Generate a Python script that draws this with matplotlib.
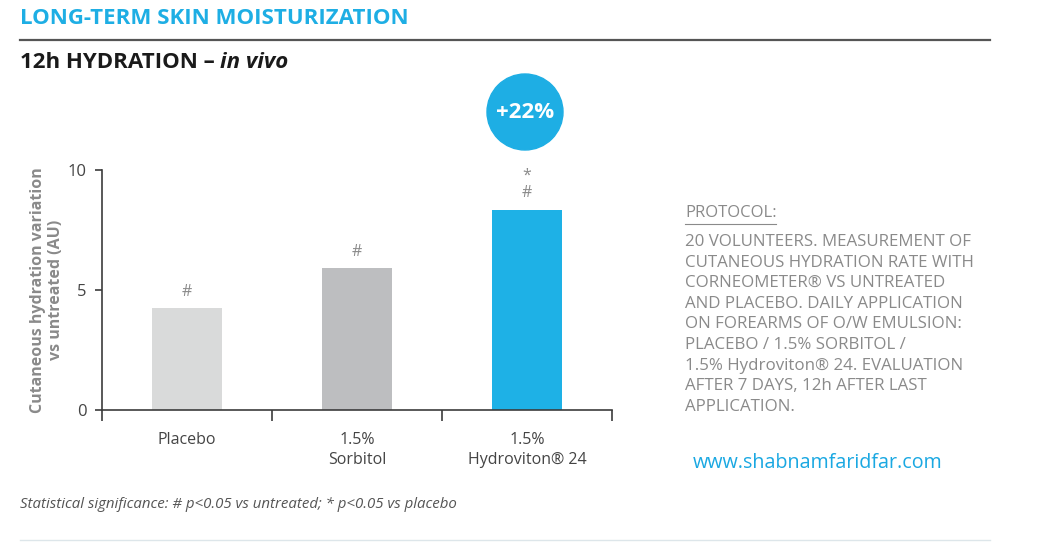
import matplotlib.pyplot as plt
from matplotlib.lines import Line2D
from matplotlib.patches import Circle

# data
categories = ["Placebo", "1.5%\nSorbitol", "1.5%\nHydroviton® 24"]
values = [4.25, 5.9, 8.35]
bar_colors = ["#d9dada", "#bdbec0", "#1eb1e6"]
marks = ["#", "#", "*\n#"]
gain_label = "+22%"

protocol_lines = [
    "20 VOLUNTEERS. MEASUREMENT OF",
    "CUTANEOUS HYDRATION RATE WITH",
    "CORNEOMETER® VS UNTREATED",
    "AND PLACEBO. DAILY APPLICATION",
    "ON FOREARMS OF O/W EMULSION:",
    "PLACEBO / 1.5% SORBITOL /",
    "1.5% Hydroviton® 24. EVALUATION",
    "AFTER 7 DAYS, 12h AFTER LAST",
    "APPLICATION.",
]

W, H = 1057, 542
blue = "#1eaee4"
grey_txt = "#8a8a8a"
axis_col = "#3c3c3c"

plt.rcParams['font.family'] = ['Open Sans', 'DejaVu Sans']

fig = plt.figure(figsize=(W / 100, H / 100), dpi=100)


def px(x, y):
    return x / W, 1 - y / H


# header
fig.text(*px(20, 18), "LONG-TERM SKIN MOISTURIZATION", color=blue, fontsize=16,
         fontweight='bold', va='center', ha='left')
fig.add_artist(Line2D([20 / W, 990 / W], [1 - 40 / H] * 2, color="#555555", lw=1.6))
t = fig.text(*px(20, 63), "12h HYDRATION – ", color="#1a1a1a", fontsize=16,
             fontweight='bold', va='center', ha='left')
fig.canvas.draw()
bb = t.get_window_extent()
fig.text(bb.x1 / W, 1 - 63 / H, "in vivo", color="#1a1a1a", fontsize=16,
         fontweight='bold', style='italic', va='center', ha='left')

# chart
ax = fig.add_axes([102 / W, (H - 410) / H, 510 / W, 240 / H])
x = range(len(values))
bars = ax.bar(x, values, width=0.41, color=bar_colors)
for xi, v, m in zip(x, values, marks):
    ax.text(xi, v + 0.35, m, ha='center', va='bottom', color=grey_txt,
            fontsize=11.5, linespacing=1.1)

ax.set_xlim(-0.5, len(values) - 0.5)
ax.set_ylim(0, 10)
ax.set_yticks([0, 5, 10])
ax.set_xticks([i - 0.5 for i in range(len(values) + 1)])
ax.set_xticklabels([])
ax.set_xticks(list(x), minor=True)
ax.set_xticklabels(categories, minor=True)
ax.tick_params(axis='x', which='major', length=8, width=1.2, color=axis_col)
ax.tick_params(axis='x', which='minor', length=0, pad=16, labelsize=11.5,
               labelcolor="#444444")
ax.tick_params(axis='y', length=5, width=1.2, color=axis_col, labelsize=12,
               labelcolor="#444444", pad=6)
for lab in ax.get_xticklabels(minor=True):
    lab.set_va('top')
    lab.set_linespacing(1.35)
for s in ['top', 'right']:
    ax.spines[s].set_visible(False)
for s in ['left', 'bottom']:
    ax.spines[s].set_color(axis_col)
    ax.spines[s].set_linewidth(1.2)
ax.set_ylabel("Cutaneous hydration variation\nvs untreated (AU)", color=grey_txt,
              fontsize=11.5, fontweight='bold', linespacing=1.1, labelpad=3)

# +22% badge
cx, cy = px(525, 112)
fig.add_artist(Circle((cx * W, cy * H), 38, transform=None, color=blue, zorder=3))
fig.text(cx, cy, gain_label, color='white', fontsize=16, fontweight='bold',
         ha='center', va='center', zorder=4)

# protocol box
fig.text(*px(685, 213), "PROTOCOL:", color=grey_txt, fontsize=12, va='center', ha='left')
fig.add_artist(Line2D([685 / W, 776 / W], [1 - 224 / H] * 2, color=grey_txt, lw=0.8))
fig.text(*px(685, 234), "\n".join(protocol_lines), color=grey_txt, fontsize=12.2,
         va='top', ha='left', linespacing=1.385)

fig.text(*px(693, 463), "www.shabnamfaridfar.com", color="#1aa8e2", fontsize=14.2,
         va='center', ha='left')

# footer
fig.text(*px(20, 504), "Statistical significance: # p<0.05 vs untreated; * p<0.05 vs placebo",
         color="#555555", fontsize=10.8, style='italic', va='center', ha='left')
fig.add_artist(Line2D([20 / W, 990 / W], [1 - 540 / H] * 2, color="#dde6ea", lw=1))

fig.savefig("out.png", dpi=100)
